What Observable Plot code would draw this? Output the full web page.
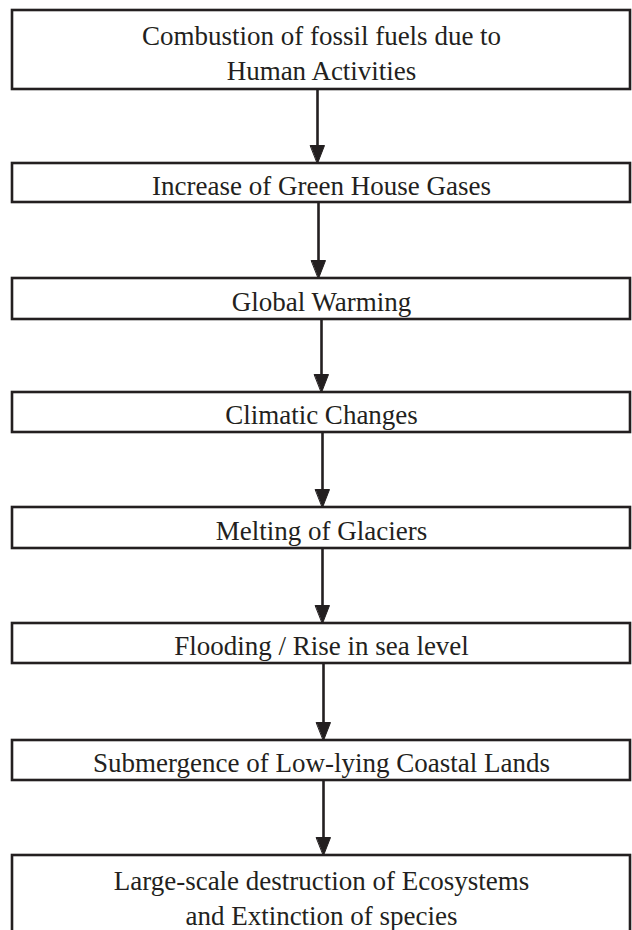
<!DOCTYPE html>
<html>
<head>
<meta charset="utf-8">
<script src="https://cdn.jsdelivr.net/npm/d3@7"></script>
<script src="https://cdn.jsdelivr.net/npm/@observablehq/plot@0.6"></script>
<style>
  html, body { margin: 0; padding: 0; background: #ffffff; }
  #chart svg { display: block; }
</style>
</head>
<body>
<div id="chart"></div>
<script>
// Flow steps (top to bottom)
const labels = [
  "Combustion of fossil fuels due to\nHuman Activities",
  "Increase of Green House Gases",
  "Global Warming",
  "Climatic Changes",
  "Melting of Glaciers",
  "Flooding / Rise in sea level",
  "Submergence of Low-lying Coastal Lands",
  "Large-scale destruction of Ecosystems\nand Extinction of species"
];
// vertical extent of each step box, in diagram units
const boxTop    = [10, 163, 278, 392, 507, 623, 740, 855];
const boxBottom = [89, 202, 319, 432, 548, 663, 780, 945];
// horizontal position of each connecting arrow
const arrowX = [317, 318, 321, 322, 322, 323, 323];

const ink = "#231f20";
const boxLeft = 12, boxRight = 630;
const headLen = 18, headHalf = 7;

const steps = labels.map((label, i) => {
  const multi = label.includes("\n");
  return {
    label, y1: boxTop[i], y2: boxBottom[i],
    ty: multi ? boxTop[i] + 41 : (boxTop[i] + boxBottom[i]) / 2 + 0.5
  };
});

const arrows = arrowX.map((x, i) => ({
  x, y1: boxBottom[i], y2: boxTop[i + 1] - headLen + 2, tip: boxTop[i + 1]
}));

const heads = arrows.flatMap((a, i) => [
  {id: i, x: a.x - headHalf, y: a.tip - headLen},
  {id: i, x: a.x + headHalf, y: a.tip - headLen},
  {id: i, x: a.x, y: a.tip}
]);

const chart = Plot.plot({
  width: 632,
  height: 930,
  margin: 0,
  style: {background: "#ffffff"},
  x: {domain: [0, 632], axis: null},
  y: {domain: [0, 930], reverse: true, axis: null},
  marks: [
    Plot.ruleX(arrows, {x: "x", y1: "y1", y2: "y2", stroke: ink, strokeWidth: 2.6}),
    Plot.line(heads, {x: "x", y: "y", z: "id", fill: ink, stroke: ink, strokeWidth: 1, curve: "linear-closed"}),
    Plot.rect(steps, {x1: boxLeft, x2: boxRight, y1: "y1", y2: "y2", fill: "#ffffff", stroke: ink, strokeWidth: 2.6}),
    Plot.text(steps, {
      x: (boxLeft + boxRight) / 2, y: "ty", text: "label",
      fill: ink, fontSize: 27, lineHeight: 1.3,
      fontFamily: "Liberation Serif", textAnchor: "middle"
    })
  ]
});
document.getElementById("chart").appendChild(chart);
</script>
</body>
</html>
